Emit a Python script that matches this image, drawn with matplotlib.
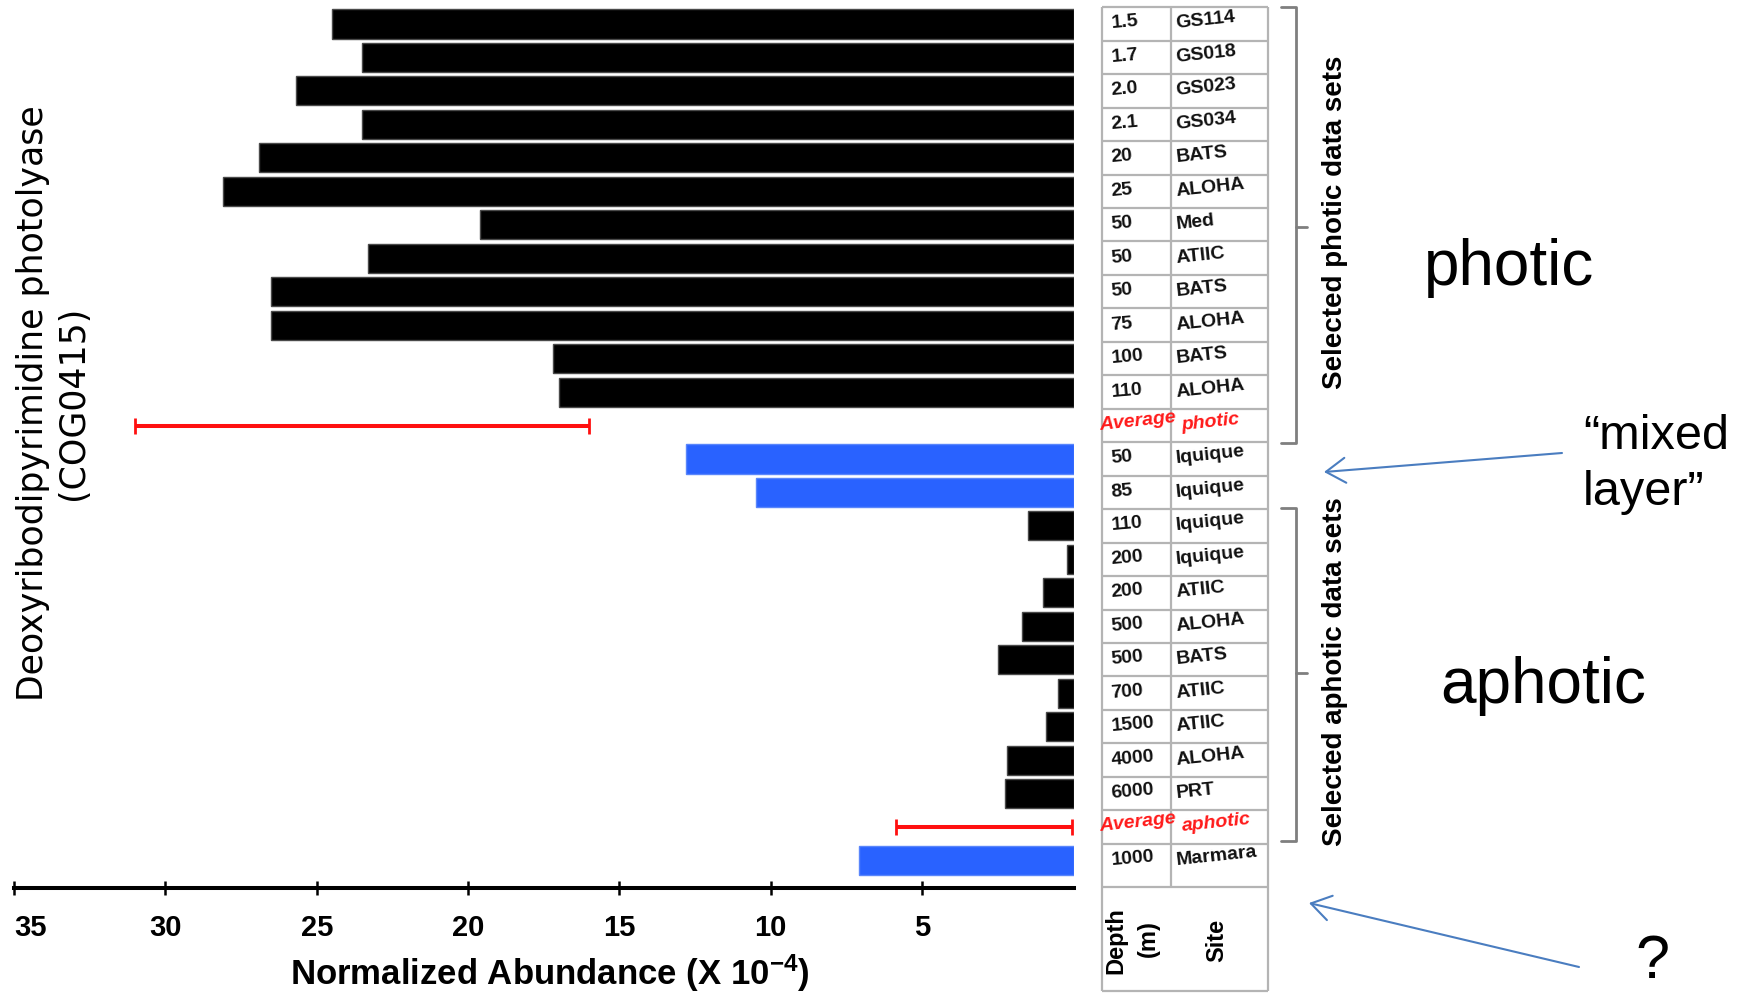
import numpy as np
import matplotlib
matplotlib.use("Agg")
import matplotlib.pyplot as plt

plt.rcParams['font.family'] = ['Liberation Sans', 'DejaVu Sans']
plt.rcParams['mathtext.default'] = 'regular'

# ---- data (rows listed top to bottom) ----
depths = ["1.5", "1.7", "2.0", "2.1", "20", "25", "50", "50", "50", "75", "100", "110", "Average",
          "50", "85", "110", "200", "200", "500", "500", "700", "1500", "4000", "6000", "Average",
          "1000"]
sites = ["GS114", "GS018", "GS023", "GS034", "BATS", "ALOHA", "Med", "ATIIC", "BATS", "ALOHA",
         "BATS", "ALOHA", "photic",
         "Iquique", "Iquique", "Iquique", "Iquique", "ATIIC", "ALOHA", "BATS", "ATIIC", "ATIIC",
         "ALOHA", "PRT", "aphotic",
         "Marmara"]
groups = (["photic"] * 12 + ["average"] + ["mixed"] * 2 + ["aphotic"] * 9 + ["average"]
          + ["marmara"])
abundance = [24.5, 23.5, 25.7, 23.5, 26.9, 28.1, 19.6, 23.3, 26.5, 26.5, 17.2, 17.0, np.nan,
             12.8, 10.5, 1.5, 0.2, 1.0, 1.7, 2.5, 0.5, 0.9, 2.2, 2.25, np.nan,
             7.1]
average_mean = [23.5, 2.95]
average_err = [7.5, 2.9]

x_ticks = [35, 30, 25, 20, 15, 10, 5]

# ---- layout (pixels) ----
W, H = 1740, 994
ROW0, PITCH = 24.0, 33.46
AXIS_Y = 888
X_LEFT, X_ZERO = 14, 1073.5

fig = plt.figure(figsize=(W / 100, H / 100), dpi=100)


def px_rect(left, top, right, bottom):
    return [left / W, 1 - bottom / H, (right - left) / W, (bottom - top) / H]


top_px = ROW0 - 0.5 * PITCH
ax = fig.add_axes(px_rect(X_LEFT, top_px, X_ZERO, AXIS_Y))
ax.patch.set_alpha(0)
ax.set_xlim(35, 0)
ax.set_ylim((AXIS_Y - ROW0) / PITCH, -0.5)

rows = np.arange(len(depths))
colors = {"photic": "black", "aphotic": "black", "mixed": "#2962ff", "marmara": "#2962ff"}
vals = np.array(abundance, dtype=float)
bar_mask = ~np.isnan(vals)
bar_colors = [colors[g] for g, m in zip(groups, bar_mask) if m]
edge_colors = ["#4a4a4a" if c == "black" else "#5a86fb" for c in bar_colors]
ax.barh(rows[bar_mask], vals[bar_mask], height=0.87, left=0, color=bar_colors,
        edgecolor=edge_colors, linewidth=1.0)

avg_rows = [i for i, g in enumerate(groups) if g == "average"]
ax.errorbar(average_mean, avg_rows, xerr=average_err, fmt='none', ecolor='#ff1010',
            elinewidth=2.9, capsize=6, capthick=2.0)

for side in ("top", "right", "left"):
    ax.spines[side].set_visible(False)
ax.spines["bottom"].set_linewidth(2.9)
ax.set_yticks([])
ax.set_xticks(x_ticks)
ax.set_xticklabels([str(t) for t in x_ticks])
ax.tick_params(axis='x', direction='inout', length=10, width=1.8, pad=14,
               labelsize=21)
tick_labels = ax.get_xticklabels()
for lbl in tick_labels:
    lbl.set_fontweight('bold')
tick_labels[0].set_ha('left')

ax.set_xlabel("Normalized Abundance (X 10$^{-4}$)", fontsize=25, fontweight='bold')
ax.xaxis.set_label_coords((550 - X_LEFT) / (X_ZERO - X_LEFT),
                          (AXIS_Y - 973) / (AXIS_Y - top_px))
ax.xaxis.label.set_va('center')

ax.set_ylabel("Deoxyribodipyrimidine photolyase\n(COG0415)", fontsize=25,
              family='DejaVu Sans', linespacing=1.25)
ax.yaxis.set_label_coords((53 - X_LEFT) / (X_ZERO - X_LEFT),
                          (AXIS_Y - 403) / (AXIS_Y - top_px))
ax.yaxis.label.set_va('center')

# ---- overlay in pixel coordinates: table, brackets, notes ----
ov = fig.add_axes([0, 0, 1, 1])
ov.set_xlim(0, W)
ov.set_ylim(H, 0)
ov.axis('off')

TL, TM, TR = 1102, 1171, 1268
TABLE_BOTTOM, HEADER_BOTTOM = 887, 991
grid = dict(color='#b4b4b4', lw=1.6, solid_capstyle='butt')
edges = ROW0 + PITCH * (np.arange(len(depths)) - 0.5)
for e in list(edges) + [TABLE_BOTTOM, HEADER_BOTTOM]:
    ov.plot([TL, TR], [e, e], **grid)
ov.plot([TL, TL], [edges[0], HEADER_BOTTOM], **grid)
ov.plot([TR, TR], [edges[0], HEADER_BOTTOM], **grid)
ov.plot([TM, TM], [edges[0], TABLE_BOTTOM], **grid)

for i, (d, s, g) in enumerate(zip(depths, sites, groups)):
    yc = ROW0 + PITCH * i
    if g == "average":
        kw = dict(color='#ff1a1a', fontstyle='italic', fontweight='bold', fontsize=14)
        ov.text(1100, yc, d, ha='left', va='center', rotation=6, rotation_mode='anchor', **kw)
        ov.text(1182, yc, s, ha='left', va='center', rotation=6, rotation_mode='anchor', **kw)
    else:
        kw = dict(color='#111111', fontweight='bold', fontsize=14)
        ov.text(1111, yc, d, ha='left', va='center', rotation=5, rotation_mode='anchor', **kw)
        ov.text(1176, yc, s, ha='left', va='center', rotation=6, rotation_mode='anchor', **kw)

ov.text(1116, 941, "Depth", rotation=90, ha='center', va='center', fontsize=17,
        fontweight='bold')
ov.text(1148, 939, "(m)", rotation=90, ha='center', va='center', fontsize=17,
        fontweight='bold')
ov.text(1217, 940, "Site", rotation=90, ha='center', va='center', fontsize=17,
        fontweight='bold')

# curly-bracket style markers for the two groups
brk = dict(color='#7f7f7f', lw=2.0, solid_capstyle='round', solid_joinstyle='round')
for top, bottom, mid in [(7, 443, 227), (508, 841, 673)]:
    ov.plot([1281, 1296, 1296, 1281], [top, top, bottom, bottom], **brk)
    ov.plot([1296, 1307], [mid, mid], **brk)
ov.text(1335, 222, "Selected photic data sets", rotation=90, ha='center', va='center',
        fontsize=20, fontweight='bold')
ov.text(1335, 672, "Selected aphotic data sets", rotation=90, ha='center', va='center',
        fontsize=20, fontweight='bold')

ov.text(1424, 285, "photic", fontsize=46, ha='left', va='baseline')
ov.text(1440, 703, "aphotic", fontsize=46, ha='left', va='baseline')
ov.text(1583, 449, "\u201cmixed", fontsize=35, ha='left', va='baseline')
ov.text(1583, 505, "layer\u201d", fontsize=35, ha='left', va='baseline')
ov.text(1635, 978, "?", fontsize=44, ha='left', va='baseline')

arrow = dict(arrowstyle='->,head_length=0.7,head_width=0.45', color='#4a7dc0', lw=1.5,
             mutation_scale=20, shrinkA=0, shrinkB=0)
ov.annotate("", xy=(1324, 472), xytext=(1562, 453), arrowprops=arrow)
ov.annotate("", xy=(1309, 903), xytext=(1579, 967), arrowprops=arrow)

fig.savefig("out.png", dpi=100)
